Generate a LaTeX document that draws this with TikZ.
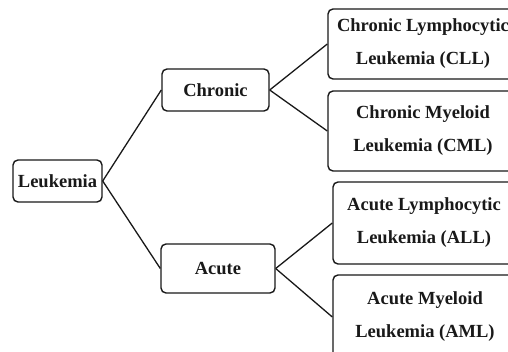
\documentclass[tikz,border=0pt]{standalone}
\usepackage{fontspec}
\setmainfont{Liberation Serif}
\begin{document}
\begin{tikzpicture}[x=1pt,y=-1pt,
  box/.style={draw=black!90, line width=1.4pt, rounded corners=5pt, inner sep=0pt,
    align=center, font=\fontsize{18.5}{33}\selectfont\bfseries, text=black!90},
  link/.style={draw=black!90, line width=1.3pt}]
\useasboundingbox (0,0) rectangle (508,352);
\clip (0,0) rectangle (508,352);
\fill[white] (0,0) rectangle (508,352);
\node[box, minimum width=89pt, minimum height=42pt] (leuk) at (57.5,181) {Leukemia};
\node[box, minimum width=107pt, minimum height=42pt] (chronic) at (215.5,90) {Chronic};
\node[box, minimum width=114pt, minimum height=49pt] (acute) at (218,268.5) {Acute};
\node[box, minimum width=190pt, minimum height=70pt] (cll) at (423,44) {Chronic Lymphocytic\\Leukemia (CLL)};
\node[box, minimum width=190pt, minimum height=80pt] (cml) at (423,131) {Chronic Myeloid\\Leukemia (CML)};
\node[box, minimum width=182pt, minimum height=82pt] (all) at (424,223) {Acute Lymphocytic\\Leukemia (ALL)};
\node[box, minimum width=184pt, minimum height=84pt] (aml) at (425,317) {Acute Myeloid\\Leukemia (AML)};
\draw[link] (leuk.east) -- (chronic.west);
\draw[link] (leuk.east) -- (acute.west);
\draw[link] (chronic.east) -- (cll.west);
\draw[link] (chronic.east) -- (cml.west);
\draw[link] (acute.east) -- (all.west);
\draw[link] (acute.east) -- (aml.west);
\end{tikzpicture}
\end{document}
